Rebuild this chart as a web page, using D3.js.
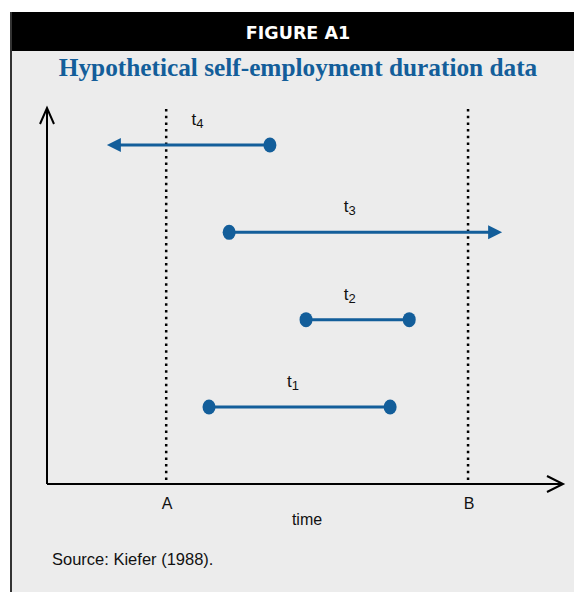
<!DOCTYPE html>
<html>
<head>
<meta charset="utf-8">
<script src="https://cdn.jsdelivr.net/npm/d3@7"></script>
<style>
  body { margin: 0; background: #fff; }
  svg { display: block; }
</style>
</head>
<body>
<div id="chart"></div>
<script>
// spells of self-employment, in arbitrary time units (0 = origin, 100 = end of axis)
const spells = ["t1", "t2", "t3", "t4"];
const spellStart = [31.4, 50.2, 35.3, 43.2];
const spellEnd = [66.5, 70.2, 88.2, 11.6];
// censored = spell runs on past the window (drawn as an arrow)
const spellCensored = [false, false, true, true];
const labelAt = [46.5, 57.5, 57.5, 28];
const windowTicks = ["A", "B"];
const windowAt = [23.1, 81.6];

const width = 574;
const height = 592;
const blue = "#135e9a";
const sans = "'Liberation Sans', Arial, sans-serif";

const svg = d3
  .select("#chart")
  .append("svg")
  .attr("width", width)
  .attr("height", height);

// panel + header
svg.append("rect").attr("x", 10).attr("y", 12).attr("width", width - 10).attr("height", height - 12).attr("fill", "#ececec");
svg.append("rect").attr("x", 10).attr("y", 12).attr("width", width - 10).attr("height", 39).attr("fill", "#000");
svg.append("line").attr("x1", 11).attr("x2", 11).attr("y1", 12).attr("y2", height).attr("stroke", "#333").attr("stroke-width", 2);

svg.append("text")
  .attr("x", 298).attr("y", 39)
  .attr("text-anchor", "middle")
  .attr("fill", "#fff")
  .style("font", "bold 17.5px 'DejaVu Sans', sans-serif")
  .text("FIGURE A1");

svg.append("text")
  .attr("x", 298).attr("y", 76)
  .attr("text-anchor", "middle")
  .attr("fill", blue)
  .style("font", "bold 25.3px 'Liberation Serif', 'Times New Roman', serif")
  .text("Hypothetical self-employment duration data");

const x = d3.scaleLinear().domain([0, 100]).range([47, 563]);
const y = d3.scalePoint().domain(spells).range([407, 145]);
const yTop = 108;
const yBase = 484;

// axes with open arrowheads
const axes = svg.append("g").attr("fill", "none").attr("stroke", "#000").attr("stroke-width", 2);
axes.append("path").attr("d", `M${x(0)},${yBase}V${yTop}`);
axes.append("path").attr("d", `M${x(0)},${yBase}H${x(100)}`);
axes.append("path").attr("d", `M${x(0) - 7},${yTop + 16}L${x(0)},${yTop}L${x(0) + 7},${yTop + 16}`);
axes.append("path").attr("d", `M${x(100) - 16},${yBase - 8}L${x(100)},${yBase}L${x(100) - 16},${yBase + 8}`);

// observation window
const win = svg.append("g");
win.selectAll("line")
  .data(windowAt)
  .enter()
  .append("line")
  .attr("x1", (d) => x(d)).attr("x2", (d) => x(d))
  .attr("y1", yTop + 1).attr("y2", yBase)
  .attr("stroke", "#000")
  .attr("stroke-width", 2.5)
  .attr("stroke-dasharray", "2.5,4.2");
win.selectAll("text")
  .data(windowTicks)
  .enter()
  .append("text")
  .attr("x", (d, i) => x(windowAt[i]) + 1)
  .attr("y", 509)
  .attr("text-anchor", "middle")
  .attr("fill", "#111")
  .style("font", `16px ${sans}`)
  .text((d) => d);

svg.append("text")
  .attr("x", 307).attr("y", 525)
  .attr("text-anchor", "middle")
  .attr("fill", "#111")
  .style("font", `16px ${sans}`)
  .text("time");

svg.append("text")
  .attr("x", 52).attr("y", 565)
  .attr("fill", "#111")
  .style("font", `16.5px ${sans}`)
  .text("Source: Kiefer (1988).");

// spells
const rows = spells.map((s, i) => ({
  id: s,
  start: spellStart[i],
  end: spellEnd[i],
  censored: spellCensored[i],
  label: labelAt[i],
}));

const g = svg.append("g");
g.selectAll(".spell")
  .data(rows)
  .enter()
  .append("line")
  .attr("class", "spell")
  .attr("x1", (d) => x(d.start))
  .attr("x2", (d) => {
    const dir = d.end > d.start ? 1 : -1;
    return d.censored ? x(d.end) - dir * 12 : x(d.end);
  })
  .attr("y1", (d) => y(d.id))
  .attr("y2", (d) => y(d.id))
  .attr("stroke", blue)
  .attr("stroke-width", 3);

g.selectAll(".head")
  .data(rows.filter((d) => d.censored))
  .enter()
  .append("path")
  .attr("class", "head")
  .attr("d", (d) => {
    const dir = d.end > d.start ? 1 : -1;
    const tx = x(d.end);
    const cy = y(d.id);
    return `M${tx},${cy}L${tx - dir * 14},${cy - 7}L${tx - dir * 14},${cy + 7}Z`;
  })
  .attr("fill", blue);

const dots = [];
rows.forEach((d) => {
  dots.push({ id: d.id, t: d.start });
  if (!d.censored) dots.push({ id: d.id, t: d.end });
});
g.selectAll(".dot")
  .data(dots)
  .enter()
  .append("ellipse")
  .attr("class", "dot")
  .attr("cx", (d) => x(d.t))
  .attr("cy", (d) => y(d.id))
  .attr("rx", 6.5)
  .attr("ry", 7.5)
  .attr("fill", blue);

const labels = g.selectAll(".lbl")
  .data(rows)
  .enter()
  .append("text")
  .attr("class", "lbl")
  .attr("x", (d) => x(d.label))
  .attr("y", (d) => y(d.id) - 20)
  .attr("fill", "#111")
  .style("font", `17px ${sans}`);
labels.append("tspan").text("t");
labels.append("tspan")
  .attr("dy", 3)
  .style("font-size", "13px")
  .text((d) => d.id.slice(1));
</script>
</body>
</html>
